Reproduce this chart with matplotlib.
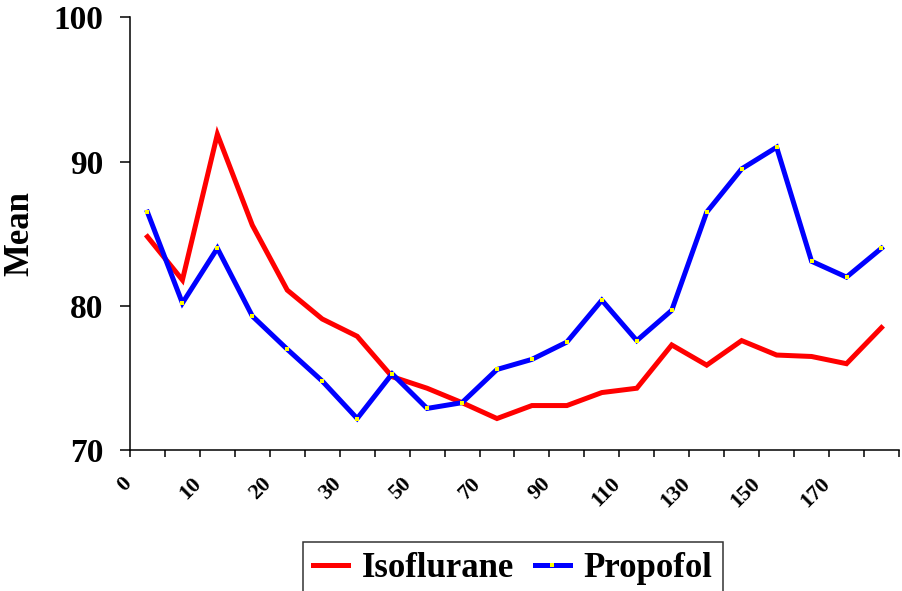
import matplotlib
matplotlib.use("Agg")
import matplotlib.pyplot as plt
import matplotlib.transforms as mtransforms
import numpy as np

# category labels along the x axis (minutes); only every other one is printed
times = [0, 5, 10, 15, 20, 25, 30, 40, 50, 60, 70, 80, 90, 100, 110,
         120, 130, 140, 150, 160, 170, 180]
tick_labels = [str(t) for t in times[::2]]

isoflurane = [84.8, 81.8, 91.9, 85.6, 81.1, 79.1, 77.9, 75.1, 74.3, 73.3, 72.2,
              73.1, 73.1, 74.0, 74.3, 77.3, 75.9, 77.6, 76.6, 76.5, 76.0, 78.5]
propofol = [86.5, 80.2, 84.0, 79.3, 77.0, 74.8, 72.2, 75.3, 72.9, 73.3, 75.6,
            76.3, 77.5, 80.4, 77.6, 79.7, 86.5, 89.5, 91.0, 83.1, 82.0, 84.0]

plt.rcParams["font.family"] = ["Liberation Serif", "DejaVu Serif"]
plt.rcParams["font.weight"] = "bold"

fig = plt.figure(figsize=(9.02, 5.91), dpi=100)
ax = fig.add_axes([0.1441, 0.2381, 0.8525, 0.7325])

x = np.arange(len(times))
ax.plot(x, isoflurane, color="#FF0000", lw=3.6, label="Isoflurane",
        solid_joinstyle="miter", zorder=3)
ax.plot(x, propofol, color="#0000FF", lw=3.6, label="Propofol",
        marker="s", ms=2.4, mfc="#FFFF00", mec="#FFFF00", mew=0,
        solid_joinstyle="miter", zorder=4)

ax.set_xlim(-0.5, len(times) - 0.5)
ax.set_ylim(70, 100)
ax.set_yticks([70, 80, 90, 100])
ax.tick_params(axis="y", direction="out", length=7, width=1.1, pad=12,
               labelsize=24)

# tick marks between categories, labels on every other category
ax.set_xticks(np.arange(-0.5, len(times), 1.0), minor=True)
ax.set_xticks(x[::2])
ax.set_xticklabels(tick_labels, rotation=45, ha="right", va="top",
                   fontsize=16, fontweight="bold")
ax.tick_params(axis="x", which="major", length=0, pad=17)
ax.tick_params(axis="x", which="minor", direction="out", length=5, width=1.1)
offset = mtransforms.ScaledTranslation(-12 / 100, 0, fig.dpi_scale_trans)
for lab in ax.get_xticklabels():
    lab.set_transform(lab.get_transform() + offset)

for side in ["top", "right"]:
    ax.spines[side].set_visible(False)
for side in ["left", "bottom"]:
    ax.spines[side].set_linewidth(1.1)

fig.text(0.0216, 0.604, "Mean", rotation=90, ha="center", va="center",
         fontsize=25, fontweight="bold")

leg = fig.legend(loc="upper center", bbox_to_anchor=(0.5687, 0.0829), ncol=2,
                 fontsize=25, frameon=True, fancybox=False, handlelength=1.0,
                 handletextpad=0.4, columnspacing=0.6, borderpad=0.3,
                 borderaxespad=0)
leg.get_frame().set_edgecolor("black")
leg.get_frame().set_linewidth(1.1)

fig.savefig("out.png", dpi=100)
